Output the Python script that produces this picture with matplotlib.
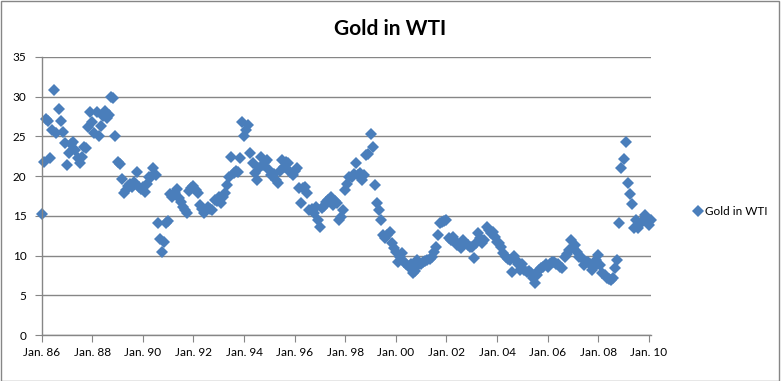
import matplotlib
matplotlib.use("Agg")
import matplotlib.pyplot as plt
from matplotlib.patches import Rectangle

plt.rcParams['font.family'] = ['Lato', 'DejaVu Sans']

# monthly gold / WTI ratio, Jan 1986 onward
y1986 = [15.2, 21.8, 27.2, 27.0, 22.3, 25.8, 30.9, 25.4, 28.5, 27.0, 25.6, 24.2]
y1987 = [21.4, 22.9, 24.0, 24.3, 23.3, 22.3, 21.7, 22.4, 23.7, 23.5, 26.2, 28.1]
y1988 = [26.8, 25.4, 28.1, 25.1, 26.3, 27.6, 28.2, 27.3, 27.7, 30.0, 29.8, 25.0]
y1989 = [21.8, 21.5, 19.6, 17.9, 18.3, 18.8, 19.0, 18.6, 19.3, 20.5, 18.6, 18.4]
y1990 = [18.6, 18.0, 19.0, 19.9, 19.9, 21.0, 20.1, 14.1, 12.1, 10.5, 11.7, 14.1]
y1991 = [14.4, 17.8, 17.4, 17.9, 18.4, 17.3, 16.8, 16.1, 15.8, 15.4, 18.1, 18.5]
y1992 = [18.8, 18.2, 17.9, 16.4, 15.9, 15.4, 15.8, 16.1, 15.9, 15.7, 17.0, 16.9]
y1993 = [17.4, 16.6, 17.4, 17.9, 18.9, 19.9, 22.4, 20.4, 20.6, 20.5, 22.3, 26.8]
y1994 = [25.0, 25.8, 26.4, 22.9, 21.7, 20.4, 19.5, 21.0, 22.4, 21.4, 21.8, 22.0]
y1995 = [20.8, 20.1, 20.3, 19.5, 19.1, 20.6, 22.0, 21.2, 21.8, 21.7, 20.5, 20.1]
y1996 = [20.6, 21.0, 18.5, 16.6, 18.5, 18.6, 17.9, 15.7, 15.9, 15.4, 16.1, 14.5]
y1997 = [13.6, 16.0, 16.3, 16.8, 17.0, 17.4, 16.4, 16.9, 16.6, 14.5, 14.9, 15.7]
y1998 = [18.3, 19.0, 19.9, 19.9, 20.3, 21.7, 20.1, 20.4, 19.5, 20.1, 22.7, 22.8]
y1999 = [25.3, 23.7, 18.9, 16.6, 15.8, 14.5, 12.6, 12.2, 12.6, 13.0, 11.6, 11.0]
y2000 = [10.5, 9.2, 9.8, 10.3, 9.2, 9.0, 8.6, 9.0, 7.8, 8.0, 9.4, 9.0]
y2001 = [9.0, 9.2, 9.3, 9.4, 9.6, 9.8, 10.4, 11.1, 12.6, 14.1, 14.2, 14.3]
y2002 = [14.5, 12.2, 12.0, 12.3, 11.8, 11.3, 11.5, 11.0, 12.0, 11.6, 11.3, 11.1]
y2003 = [11.1, 9.7, 11.6, 12.8, 12.2, 11.6, 12.0, 13.6, 13.2, 12.8, 13.0, 12.4]
y2004 = [11.7, 11.6, 11.1, 10.3, 9.8, 9.6, 9.4, 7.9, 10.0, 9.5, 9.0, 8.2]
y2005 = [9.0, 8.2, 7.9, 8.1, 7.8, 7.2, 6.5, 7.6, 8.2, 8.4, 8.6, 9.0]
y2006 = [8.6, 9.0, 9.2, 9.2, 9.0, 9.0, 8.6, 8.4, 9.8, 10.2, 10.7, 12.0]
y2007 = [11.1, 11.3, 10.5, 9.8, 9.8, 8.8, 9.2, 9.2, 9.0, 8.2, 8.6, 9.4]
y2008 = [10.1, 8.8, 7.8, 7.5, 7.2, 7.0, 6.9, 7.2, 8.4, 9.4, 14.1, 21.0]
y2009 = [22.2, 24.3, 19.1, 17.8, 16.5, 13.5, 14.5, 13.5, 14.0, 14.5, 15.1, 14.7]
y2010 = [13.9, 14.5]

ratio = (y1986 + y1987 + y1988 + y1989 + y1990 + y1991 + y1992 + y1993 +
         y1994 + y1995 + y1996 + y1997 + y1998 + y1999 + y2000 + y2001 +
         y2002 + y2003 + y2004 + y2005 + y2006 + y2007 + y2008 + y2009 + y2010)
months = list(range(len(ratio)))

tick_labels = ["Jan. 86", "Jan. 88", "Jan. 90", "Jan. 92", "Jan. 94", "Jan. 96",
               "Jan. 98", "Jan. 00", "Jan. 02", "Jan. 04", "Jan. 06", "Jan. 08", "Jan. 10"]
tick_pos = [24 * i for i in range(len(tick_labels))]

fig = plt.figure(figsize=(7.81, 3.81), dpi=100)
ax = fig.add_axes([0.0534, 0.1207, 0.7801, 0.7297])

ax.plot(months, ratio, linestyle="none", marker="D", markersize=5.8,
        color="#4A7EBB", markeredgewidth=0, label="Gold in WTI", clip_on=False)

ax.set_xlim(0, 289)
ax.set_ylim(0, 35)
ax.set_yticks(range(0, 36, 5))
ax.set_xticks(tick_pos)
ax.set_xticklabels(tick_labels)
ax.tick_params(axis="both", labelsize=8.5, length=5, color="#868686", direction="out")
ax.tick_params(axis="y", pad=6)

ax.grid(axis="y", color="#868686", linewidth=1)
ax.set_axisbelow(True)
for s in ["top", "right"]:
    ax.spines[s].set_visible(False)
for s in ["left", "bottom"]:
    ax.spines[s].set_color("#868686")
    ax.spines[s].set_linewidth(1)

fig.text(0.5, 0.925, "Gold in WTI", ha="center", va="center",
         fontsize=15, fontweight="bold")

fig.legend(loc="center left", bbox_to_anchor=(0.872, 0.445), frameon=False,
           fontsize=8.5, handletextpad=0.1, handlelength=1.0)

fig.patches.append(Rectangle((0.001, 0.001), 0.997, 0.997, transform=fig.transFigure,
                             fill=False, edgecolor="#868686", linewidth=1))

fig.savefig("out.png", dpi=100)
